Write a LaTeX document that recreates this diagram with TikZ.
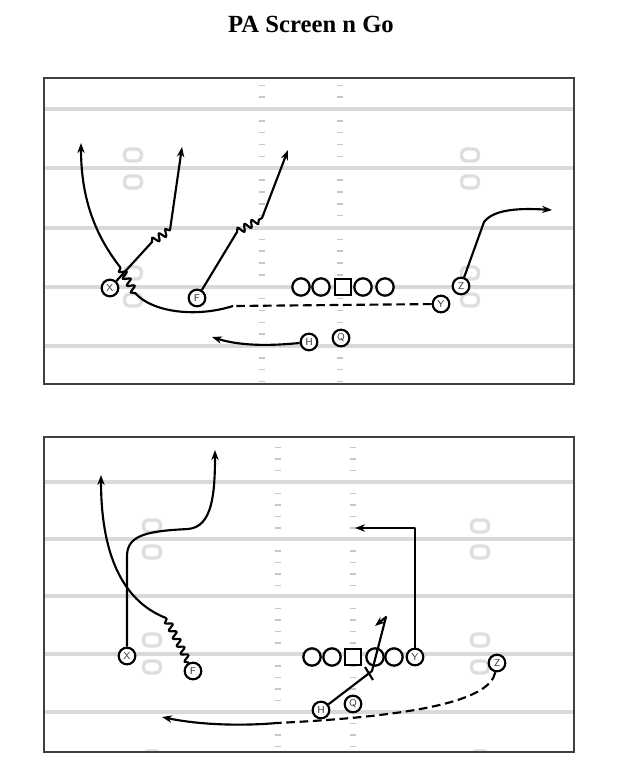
\documentclass[tikz,border=0pt]{standalone}
\usepackage{fontspec}
\setmainfont{Liberation Serif}
\usetikzlibrary{arrows.meta,decorations.pathmorphing}
\tikzset{
  yard/.style={draw=black!15, line width=3pt},
  hashm/.style={draw=black!22, line width=1.1pt},
  numbox/.style={draw=black!13, line width=2.5pt, rounded corners=3.5pt},
  panel/.style={draw=black!75, line width=1.1pt},
  lineman/.style={circle, draw, fill=white, line width=1.7pt, minimum size=13pt, inner sep=0pt},
  centerbox/.style={rectangle, draw, fill=white, line width=1.7pt, minimum size=11.5pt, inner sep=0pt},
  player/.style={circle, draw, fill=white, line width=1.6pt, minimum size=12.5pt, inner sep=0pt,
     font=\sffamily\fontsize{7.5}{7.5}\selectfont, text=black!75},
  rline/.style={line width=1.6pt, line join=round},
  route/.style={rline, -{Stealth[length=7.5pt,width=5.5pt]}},
  dashline/.style={rline, dash pattern=on 6.5pt off 3.5pt},
  wavy/.style={decorate, decoration={snake, amplitude=2.6pt, segment length=6pt}},
  wavyb/.style={decorate, decoration={snake, amplitude=2.5pt, segment length=6.5pt}},
  titletext/.style={font=\bfseries\fontsize{18.5}{21}\selectfont}
}
\begin{document}
\begin{tikzpicture}[x=0.75pt,y=-0.75pt]
\useasboundingbox[fill=white] (0,0) rectangle (629,776);

\node[titletext, anchor=base] (title) at (311,32) {PA Screen n Go};

% ---------------- top panel ----------------
\begin{scope}
  \clip (44,78) rectangle (574,384);
  \foreach \k in {-2,...,23} \foreach \hx in {262,340}
    \draw[hashm] ({\hx-3},{109+11.85*\k}) -- ({\hx+3},{109+11.85*\k});
  \foreach \yy in {109,168,228,287,346}
    \draw[yard] (44,\yy) -- (574,\yy);
  \foreach \bx in {133,470} \foreach \by in {155,182,273,300}
    \draw[numbox] ({\bx-8.5},{\by-6}) rectangle ({\bx+8.5},{\by+6});
\end{scope}
\draw[panel] (44,78) rectangle (574,384);

\node[lineman] (ta) at (301,287) {};
\node[lineman] (tb) at (321,287) {};
\node[centerbox] (tc) at (343,287) {};
\node[lineman] (td) at (363,287) {};
\node[lineman] (te) at (385,287) {};
\node[player] (tX) at (110,288) {X};
\node[player] (tF) at (197,298) {F};
\node[player] (tY) at (441,304) {Y};
\node[player] (tZ) at (461,286) {Z};
\node[player] (tH) at (309,342) {H};
\node[player] (tQ) at (341,338) {Q};

\coordinate (tys) at (233,306);
\draw[dashline] (tY) -- (tys);
\draw[route] (tys) .. controls (195,318) and (152,312) .. (135,293)
  decorate[wavy]{-- (120,267)} .. controls (96,236) and (81,200) .. (81,143);
\draw[route] (tX) -- (152,242) decorate[wavy]{-- (170,230)} -- (182,147);
\draw[route] (tF) -- (237,232) decorate[wavy]{-- (262,218)} -- (288,150);
\draw[route] (tZ) -- (484,222) .. controls (494,209) and (520,208) .. (552,210);
\draw[route] (tH) .. controls (270,346) and (240,346) .. (212,337);

% ---------------- bottom panel ----------------
\begin{scope}
  \clip (44,437) rectangle (574,752);
  \foreach \k in {-3,...,23} \foreach \hx in {278,353}
    \draw[hashm] ({\hx-3},{482+11.5*\k}) -- ({\hx+3},{482+11.5*\k});
  \foreach \yy in {482,539,596,654,712}
    \draw[yard] (44,\yy) -- (574,\yy);
  \foreach \bx in {152,480} \foreach \by in {430,526,552,640,667,757}
    \draw[numbox] ({\bx-8.5},{\by-6}) rectangle ({\bx+8.5},{\by+6});
\end{scope}
\draw[panel] (44,437) rectangle (574,752);

\node[lineman] (ba) at (312,657) {};
\node[lineman] (bb) at (332,657) {};
\node[centerbox] (bc) at (353,657) {};
\node[lineman] (bd) at (375,657) {};
\node[lineman] (be) at (394,657) {};
\node[player] (bY) at (415,657) {Y};
\node[player] (bZ) at (497,663) {Z};
\node[player] (bH) at (321,710) {H};
\node[player] (bQ) at (353,704) {Q};
\node[player] (bX) at (127,656) {X};
\node[player] (bF) at (193,671) {F};

\draw[route] (bX) -- (127,556) .. controls (127,534) and (150,531) .. (188,529)
  .. controls (212,527) and (215,495) .. (215,450);
\draw[route] (bF.117) decorate[wavyb]{-- (166,618)} .. controls (120,600) and (101,550) .. (101,475);
\draw[route] (bY) -- (415,528) -- (355,528);
\draw[route] (bH) -- (372,671) -- (386,617) -- (375,626);
\draw[rline] (365,667) -- (373,680);
\coordinate (bzs) at (277,723);
\draw[dashline] (bZ) .. controls (490,700) and (420,716) .. (bzs);
\draw[route] (bzs) .. controls (230,727) and (190,723) .. (162,717);
\end{tikzpicture}
\end{document}
